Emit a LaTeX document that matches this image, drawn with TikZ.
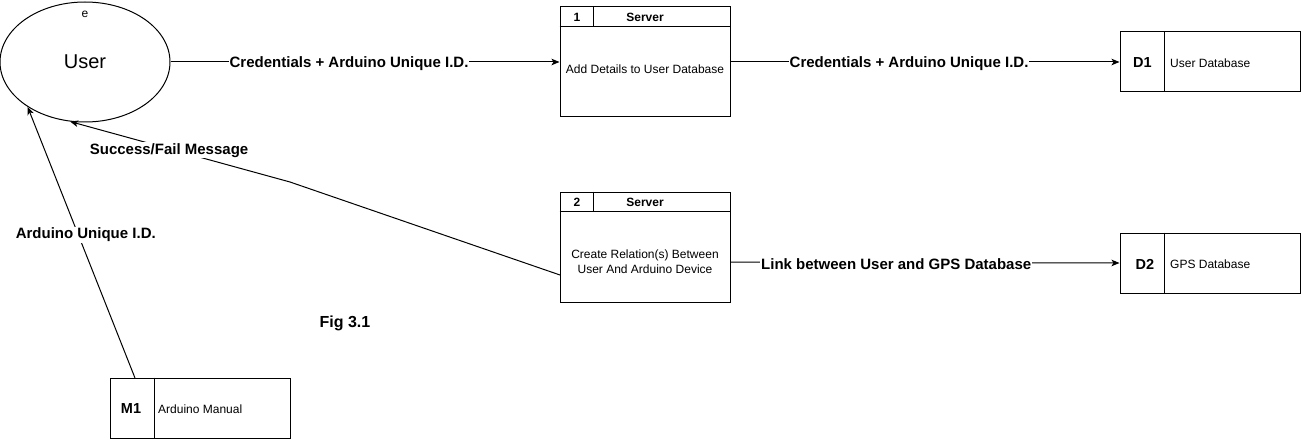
\documentclass[tikz,border=0pt]{standalone}
\usepackage{fontspec}
\setmainfont{Liberation Sans}
\usetikzlibrary{arrows.meta,shapes.geometric,calc}
\begin{document}
\begin{tikzpicture}[x=1pt,y=-1pt,
  every node/.style={inner sep=0pt},
  ln/.style={line width=1pt,draw=black},
  arr/.style={ln,-{Stealth[length=8pt,width=6.5pt,inset=2pt]}},
  lbl/.style={fill=white,inner sep=1pt,yshift=-1.5pt,font=\fontsize{15}{18}\selectfont\bfseries},
  small/.style={font=\fontsize{12}{15}\selectfont},
  smallb/.style={font=\fontsize{12}{15}\selectfont\bfseries},
  storeid/.style={font=\fontsize{14.5}{17}\selectfont\bfseries},
  procbox/.style={ln,rectangle,minimum width=170pt,minimum height=110pt},
  storebox/.style={ln,rectangle,minimum width=180pt,minimum height=60pt},
]
\useasboundingbox (0,0) rectangle (1301,441);

% external entity
\node[ellipse,ln,minimum width=170pt,minimum height=120pt,font=\fontsize{20}{24}\selectfont] (user) at (85,62) {\raisebox{-1.5pt}{User}};
\node[small] (ue) at (85,14) {e};

% process 1
\node[procbox] (p1) at (645,62) {};
\draw[ln] ($(p1.north west)+(0,20)$) -- ($(p1.north east)+(0,20)$);
\draw[ln] ($(p1.north west)+(34,0)$) -- ($(p1.north west)+(34,20)$);
\node[smallb] (p1n) at (577,17.5) {1};
\node[smallb] (p1h) at (645,17.5) {Server};
\node[small] (p1b) at (645,69.5) {Add Details to User Database};

% process 2
\node[procbox] (p2) at (645,247) {};
\draw[ln] ($(p2.north west)+(0,20)$) -- ($(p2.north east)+(0,20)$);
\draw[ln] ($(p2.north west)+(34,0)$) -- ($(p2.north west)+(34,20)$);
\node[smallb] (p2n) at (577,202.5) {2};
\node[smallb] (p2h) at (645,202.5) {Server};
\node[small,align=center] (p2b) at (645,262) {Create Relation(s) Between\\User And Arduino Device};

% data store D1
\node[storebox] (d1) at (1210,62) {};
\draw[ln] ($(d1.north west)+(45,0)$) -- ($(d1.south west)+(45,0)$);
\node[storeid] (d1i) at (1142.5,63) {D1};
\node[small,anchor=west] (d1t) at (1170,63) {User Database};

% data store D2
\node[storebox] (d2) at (1210,263) {};
\draw[ln] ($(d2.north west)+(45,0)$) -- ($(d2.south west)+(45,0)$);
\node[storeid] (d2i) at (1145,264) {D2};
\node[small,anchor=west] (d2t) at (1170,264) {GPS Database};

% manual M1
\node[storebox] (m1) at (200,408) {};
\draw[ln] ($(m1.north west)+(45,0)$) -- ($(m1.south west)+(45,0)$);
\node[storeid] (m1i) at (131,409) {M1};
\node[small,anchor=west] (m1t) at (158,409) {Arduino Manual};

% helper coordinates
\coordinate (p2in) at (560,275);
\coordinate (bend) at (290,182);
\coordinate (m1out) at (135,378);

% flows
\draw[arr] (user.east) -- node[lbl,pos=0.459] {Credentials + Arduino Unique I.D.} (p1.west);
\draw[arr] (p1.east) -- node[lbl,pos=0.459] {Credentials + Arduino Unique I.D.} (d1.west);
\draw[arr] (p2.east |- p2b) -- node[lbl,pos=0.426] {Link between User and GPS Database} (d2.west);
\draw[arr] (p2in) -- (bend) -- node[lbl,pos=0.55] {Success/Fail Message} (user.256);
\draw[arr] (m1out) -- node[lbl,pos=0.533,xshift=8pt] {Arduino Unique I.D.} (user.218);

\node[font=\fontsize{16}{19}\selectfont\bfseries] (fig) at (345,323) {Fig 3.1};
\end{tikzpicture}
\end{document}
